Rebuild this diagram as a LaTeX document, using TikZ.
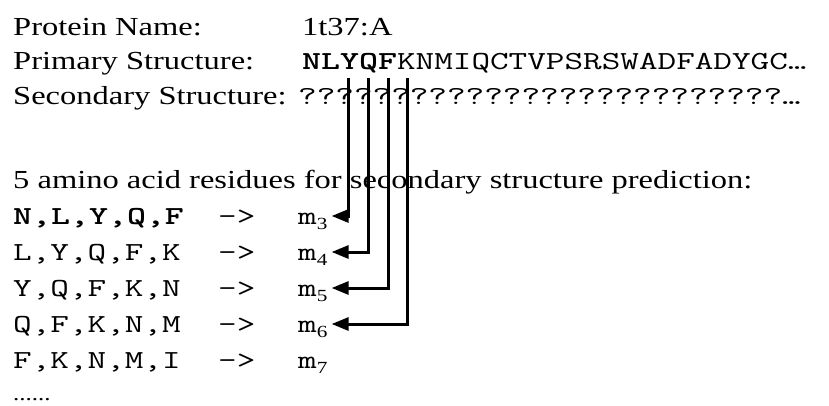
\documentclass[tikz,border=0pt]{standalone}
\usepackage{fontspec}
\setmainfont{Liberation Serif}
\usepackage{graphicx}
\usetikzlibrary{arrows.meta}
\newcommand\rmx[1]{\scalebox{1.25}[1]{#1}}
\newcommand\ttx[1]{\scalebox{1.39}[1]{\ttfamily #1}}
\newcommand\msub[1]{\ttx{m}\raisebox{-5pt}{\fontsize{17}{17}\selectfont\rmx{#1}}}
\tikzset{
 txt/.style={anchor=base west, inner sep=0pt, font=\fontsize{26}{30}\selectfont},
 mlab/.style={anchor=west, inner xsep=4pt, inner ysep=0pt, text height=18pt, text depth=2pt, font=\fontsize{26}{30}\selectfont},
 conn/.style={line width=3pt, -{Triangle[length=17pt,width=13pt]}},
}
\begin{document}
\begin{tikzpicture}[x=1pt,y=-1pt]
\useasboundingbox (0,0) rectangle (829,406);
% header
\node[txt] (pn)  at (13,36)  {\rmx{Protein Name:}};
\node[txt] (pnv) at (302,36) {\rmx{1t37:A}};
\node[txt] (ps)  at (13,70)  {\rmx{Primary Structure:}};
\node[txt] (psv) at (302,70) {\ttx{\textbf{NLYQF}KNMIQCTVPSRSWADFADYGC…}};
\node[txt] (ss)  at (13,105) {\rmx{Secondary Structure:}};
\node[txt] (ssv) at (298,105) {\ttx{??????????????????????????…}};
% prediction line
\node[txt] (five) at (13,189) {\rmx{5 amino acid residues for secondary structure prediction:}};
% windows
\node[txt] (w3) at (13,224) {\ttx{\bfseries N,L,Y,Q,F}};
\node[txt] (a3) at (218,224) {\ttx{->}};
\node[mlab] (m3) at (294,216) {\msub{3}};
\node[txt] (w4) at (13,260) {\ttx{L,Y,Q,F,K}};
\node[txt] (a4) at (218,260) {\ttx{->}};
\node[mlab] (m4) at (294,252) {\msub{4}};
\node[txt] (w5) at (13,296) {\ttx{Y,Q,F,K,N}};
\node[txt] (a5) at (218,296) {\ttx{->}};
\node[mlab] (m5) at (294,288) {\msub{5}};
\node[txt] (w6) at (13,332) {\ttx{Q,F,K,N,M}};
\node[txt] (a6) at (218,332) {\ttx{->}};
\node[mlab] (m6) at (294,324) {\msub{6}};
\node[txt] (w7) at (13,368) {\ttx{F,K,N,M,I}};
\node[txt] (a7) at (218,368) {\ttx{->}};
\node[mlab] (m7) at (294,360) {\msub{7}};
\node[txt, font=\fontsize{20}{24}\selectfont] (dots) at (13,400) {\rmx{......}};
% connectors
\coordinate (s3) at (348,78);
\coordinate (s4) at (368,78);
\coordinate (s5) at (388,78);
\coordinate (s6) at (407,78);
\draw[conn] (s3) |- (m3.east);
\draw[conn] (s4) |- (m4.east);
\draw[conn] (s5) |- (m5.east);
\draw[conn] (s6) |- (m6.east);
\end{tikzpicture}
\end{document}
